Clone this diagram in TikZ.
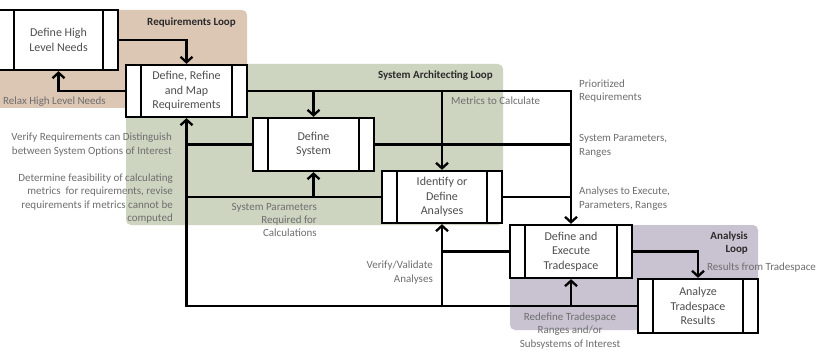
\documentclass[tikz,border=0pt]{standalone}
\usepackage{fontspec}
\setmainfont{Carlito}
\usetikzlibrary{arrows.meta}

\definecolor{reqloop}{HTML}{DCC6B4}
\definecolor{sysloop}{HTML}{CDD5C1}
\definecolor{anloop}{HTML}{C9C3D1}
\definecolor{labelgray}{HTML}{6E6E6E}
\definecolor{boxtext}{HTML}{4F4F4F}
\definecolor{titletext}{HTML}{2B2B2B}

\tikzset{
  procbox/.style={draw=black, line width=2.3pt, fill=white, inner sep=0pt,
    align=center, text=boxtext, font=\fontsize{12}{14.5}\selectfont,
    path picture={
      \draw[line width=2.3pt]
        ([xshift=15pt]path picture bounding box.north west) --
        ([xshift=15pt]path picture bounding box.south west);
      \draw[line width=2.3pt]
        ([xshift=-15pt]path picture bounding box.north east) --
        ([xshift=-15pt]path picture bounding box.south east);
    }},
  conn/.style={draw=black, line width=2.3pt, line join=miter},
  arr/.style={conn, -{Straight Barb[length=5.5pt,width=12pt]}},
  lbl/.style={inner sep=0pt, text=labelgray, font=\fontsize{11}{13.4}\selectfont},
  ttl/.style={inner sep=0pt, text=titletext, font=\bfseries\fontsize{11}{13.6}\selectfont},
  loopbg/.style={rounded corners=5pt, draw=none}
}

\begin{document}
\begin{tikzpicture}[x=1pt, y=-1pt]
  \useasboundingbox (0,0) rectangle (818,350);
  \clip (0,0) rectangle (818,350);
  \fill[white] (0,0) rectangle (818,350);

  % loop backgrounds
  \fill[reqloop, loopbg] (-10,10) rectangle (247,108);
  \fill[sysloop, loopbg] (126,64) rectangle (503,225);
  \fill[anloop, loopbg] (510,225) rectangle (758,330);

  % process boxes
  \node[procbox, minimum width=119pt, minimum height=60pt] (hln) at (58.5,40) {Define High\\Level Needs};
  \node[procbox, minimum width=121pt, minimum height=52pt] (req) at (186.5,91) {Define, Refine\\and Map\\Requirements};
  \node[procbox, minimum width=121pt, minimum height=53pt] (ds) at (313.5,144.5) {Define\\System};
  \node[procbox, minimum width=120pt, minimum height=52pt] (ia) at (442,197) {Identify or\\Define\\Analyses};
  \node[procbox, minimum width=122pt, minimum height=53pt] (tr) at (571,251.5) {Define and\\Execute\\Tradespace};
  \node[procbox, minimum width=120pt, minimum height=54pt] (an) at (698,306) {Analyze\\Tradespace\\Results};

  % requirements loop
  \draw[arr] (hln.east) -| (req.north);
  \draw[arr] (req.west) -| (hln.south);

  % forward flow to the tradespace
  \draw[arr] (req.east) -| (tr.north);
  \draw[arr] (ds.north |- req.east) -- (ds.north);
  \draw[arr] (ia.north |- req.east) -- (ia.north);
  \draw[conn] (ds.east) -- (ds.east -| tr.north);
  \draw[conn] (ia.east) -- (ia.east -| tr.north);

  % analysis loop
  \draw[arr] (tr.east) -| (an.north);
  \draw[arr] (an.west) -| (req.south);
  \draw[arr] (an.west -| tr.south) -- (tr.south);
  \draw[arr] (an.west -| ia.south) -- (ia.south);

  % feedback paths
  \draw[conn] (tr.west) -- (tr.west -| ia.south);
  \draw[conn] (ia.west) -- (ia.west -| req.south);
  \draw[arr] (ia.west -| ds.south) -- (ds.south);
  \draw[conn] (ds.west) -- (ds.west -| req.south);

  % loop titles
  \node[ttl, anchor=east] (tReq) at (236,23) {Requirements Loop};
  \node[ttl, anchor=east] (tSys) at (493,76) {System Architecting Loop};
  \node[ttl, anchor=east, align=right] (tAn) at (748,243) {Analysis\\Loop};

  % flow labels
  \node[lbl, anchor=west] (lRelax) at (3,102) {Relax High Level Needs};
  \node[lbl, anchor=west] (lMetrics) at (451,101) {Metrics to Calculate};
  \node[lbl, anchor=west, align=left] (lPrio) at (579,91) {Prioritized\\Requirements};
  \node[lbl, anchor=west, align=left] (lSysPar) at (579,146) {System Parameters,\\Ranges};
  \node[lbl, anchor=west, align=left] (lAnEx) at (579,198.5) {Analyses to Execute,\\Parameters, Ranges};
  \node[lbl, anchor=east, align=right] (lVerReq) at (172,144.5) {Verify Requirements can Distinguish\\between System Options of Interest};
  \node[lbl, anchor=east, align=right] (lFeas) at (173,198.5) {Determine feasibility of calculating\\metrics \ for requirements, revise\\requirements if metrics cannot be\\computed};
  \node[lbl, anchor=east, align=right] (lReqCalc) at (317,220) {System Parameters\\Required for\\Calculations};
  \node[lbl, anchor=east, align=right] (lVerAn) at (433,272.5) {Verify/Validate\\Analyses};
  \node[lbl, align=center] (lRedef) at (570,331) {Redefine Tradespace\\Ranges and/or\\Subsystems of Interest};
  \node[lbl, anchor=west] (lResults) at (707,268) {Results from Tradespace};
\end{tikzpicture}
\end{document}
